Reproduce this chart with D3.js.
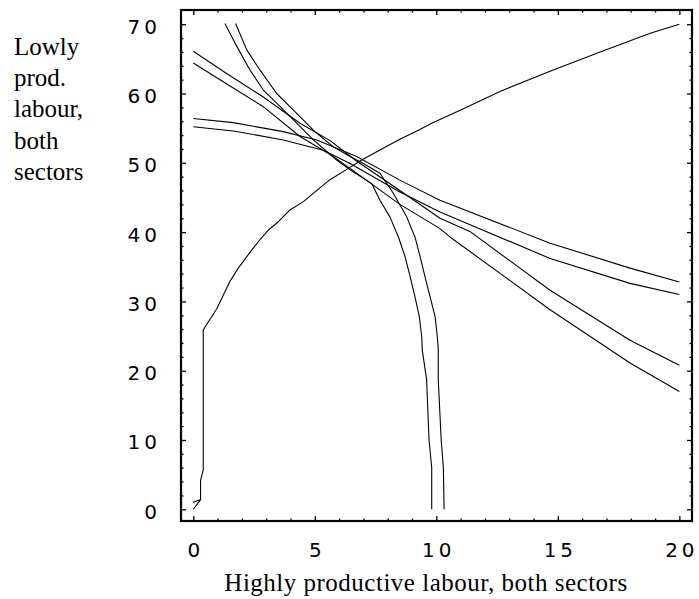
<!DOCTYPE html>
<html>
<head>
<meta charset="utf-8">
<script src="https://cdn.jsdelivr.net/npm/d3@7"></script>
<style>
  body { margin: 0; background: #fff; }
  svg { display: block; }
</style>
</head>
<body>
<svg id="chart"></svg>
<script>
// tick values
const xMajor = [0, 5, 10, 15, 20];
const yMajor = [0, 10, 20, 30, 40, 50, 60, 70];
const xMinor = [1, 2, 3, 4, 6, 7, 8, 9, 11, 12, 13, 14, 16, 17, 18, 19];
const yMinor = [2, 4, 6, 8, 12, 14, 16, 18, 22, 24, 26, 28, 32, 34, 36, 38, 42, 44, 46, 48, 52, 54, 56, 58, 62, 64, 66, 68];

// rising curve
const riseCurve = [[0,0],[0.3,1.4],[0,1.0],[0.3,1.4],[0.3,4.2],[0.41,5.7],[0.41,25.9],[0.96,28.9],[1.51,32.9],
  [1.85,34.8],[2.40,37.4],[2.74,38.9],[3.09,40.3],[3.50,41.5],[3.98,43.2],[4.53,44.4],[5.01,45.8],
  [5.56,47.4],[6.38,49.2],[6.93,50.4],[7.68,51.85],[8.5,53.4],[9.26,54.7],[9.81,55.7],
  [10.98,57.6],[12.62,60.3],[14.68,63.2],[16.74,66.0],[18.8,68.7],[20,70]];

// steep falling curves
const steepA = [[1.30,70.1],[1.79,66.8],[2.33,63.4],[2.88,60.5],[3.43,58.6],[4.12,56.2],[4.94,53.3],[5.90,50.4],
  [6.45,49.0],[7.34,47.0],[7.68,44.6],[8.09,42.2],[8.44,39.3],[8.71,36.5],[8.92,33.6],[9.12,30.7],
  [9.30,27.8],[9.40,24.9],[9.42,23.0],[9.6,18.7],[9.7,10],[9.81,6],[9.81,0]];
const steepB = [[1.74,70.1],[2.20,66.3],[2.74,63.4],[3.43,60.0],[4.12,57.6],[4.94,54.7],[5.76,52.3],[6.45,50.9],
  [7.0,49.9],[7.68,48.5],[8.23,45.6],[8.78,42.2],[9.12,39.3],[9.33,36.5],[9.53,33.6],[9.74,30.7],
  [9.95,27.8],[10.04,24.9],[10.08,23],[10.08,18.7],[10.2,10],[10.29,6],[10.32,0]];

// falling curves starting high
const fallA = [[0,66.1],[1.23,63.2],[2.88,59.5],[4.39,55.7],[5.63,53.2],[6.7,50.3],[8.5,46],[10.15,42.0],
  [11.38,40.1],[14.68,31.6],[17.97,24.4],[20,20.8]];
const fallB = [[0,64.4],[1.23,61.7],[2.88,58.1],[4.39,53.8],[5.63,51.2],[6.45,49.2],[8.5,44.0],[10.15,40.5],
  [10.56,39.3],[14.68,28.8],[17.97,21.1],[20,17.0]];

// flatter falling curves
const flatA = [[0,56.4],[1.65,55.8],[3.7,54.5],[5.08,53.3],[6.72,50.9],[8.5,47.5],[10.15,44.6],[14.68,38.4],
  [17.97,34.8],[20,32.8]];
const flatB = [[0,55.2],[1.65,54.6],[3.7,53.3],[5.35,51.8],[6.45,49.9],[8.5,45.8],[10.15,42.9],[14.68,36.2],
  [17.97,32.6],[20,31.0]];

const curves = [riseCurve, steepA, steepB, fallA, fallB, flatA, flatB];

const yLabelLines = ["Lowly", "prod.", "labour,", "both", "sectors"];
const xLabel = "Highly productive labour, both sectors";

const width = 699, height = 599;
const frame = {left: 181, right: 692, top: 10, bottom: 521};

const svg = d3.select("#chart").attr("width", width).attr("height", height);

const x = d3.scaleLinear().domain([-0.506, 20.52]).range([frame.left, frame.right]);
const y = d3.scaleLinear().domain([-1.69, 72.05]).range([frame.bottom, frame.top]);

// ticks on all four sides, pointing inward
const tickFont = "'DejaVu Sans', sans-serif";
function styleTicks(g) {
  g.select(".domain").remove();
  g.selectAll("line").attr("stroke", "#000").attr("stroke-width", 1.3);
}

svg.append("g").attr("transform", `translate(0,${frame.bottom})`)
  .call(d3.axisBottom(x).tickValues(xMinor).tickSize(-2.5).tickFormat(""))
  .call(styleTicks);
svg.append("g").attr("transform", `translate(0,${frame.bottom})`)
  .call(d3.axisBottom(x).tickValues(xMajor).tickSize(-5).tickPadding(22).tickFormat(d3.format("d")))
  .call(styleTicks)
  .call(g => g.selectAll("text")
    .attr("font-family", tickFont).attr("font-size", 20).attr("fill", "#000")
    .style("letter-spacing", "4px").attr("dx", 2));

svg.append("g").attr("transform", `translate(0,${frame.top})`)
  .call(d3.axisTop(x).tickValues(xMinor).tickSize(-2.5).tickFormat(""))
  .call(styleTicks);
svg.append("g").attr("transform", `translate(0,${frame.top})`)
  .call(d3.axisTop(x).tickValues(xMajor).tickSize(-5).tickFormat(""))
  .call(styleTicks);

svg.append("g").attr("transform", `translate(${frame.left},0)`)
  .call(d3.axisLeft(y).tickValues(yMinor).tickSize(-2.5).tickFormat(""))
  .call(styleTicks);
svg.append("g").attr("transform", `translate(${frame.left},0)`)
  .call(d3.axisLeft(y).tickValues(yMajor).tickSize(-5).tickPadding(20).tickFormat(d3.format("d")))
  .call(styleTicks)
  .call(g => g.selectAll("text")
    .attr("font-family", tickFont).attr("font-size", 20).attr("fill", "#000")
    .style("letter-spacing", "4px").attr("dy", "0.45em"));

svg.append("g").attr("transform", `translate(${frame.right},0)`)
  .call(d3.axisRight(y).tickValues(yMinor).tickSize(-2.5).tickFormat(""))
  .call(styleTicks);
svg.append("g").attr("transform", `translate(${frame.right},0)`)
  .call(d3.axisRight(y).tickValues(yMajor).tickSize(-5).tickFormat(""))
  .call(styleTicks);

// frame
svg.append("rect")
  .attr("x", frame.left).attr("y", frame.top)
  .attr("width", frame.right - frame.left).attr("height", frame.bottom - frame.top)
  .attr("fill", "none").attr("stroke", "#000").attr("stroke-width", 2.2);

// curves
const line = d3.line().x(d => x(d[0])).y(d => y(d[1]));
svg.append("g").selectAll("path")
  .data(curves)
  .enter()
  .append("path")
  .attr("d", line)
  .attr("fill", "none")
  .attr("stroke", "#000")
  .attr("stroke-width", 1.1)
  .attr("stroke-linejoin", "round");

// axis titles
const serif = "'Liberation Serif', 'Times New Roman', serif";
svg.append("text")
  .attr("x", 426).attr("y", 591)
  .attr("text-anchor", "middle")
  .attr("font-family", serif).attr("font-size", 25)
  .style("letter-spacing", "0.5px")
  .text(xLabel);

svg.append("g").selectAll("text")
  .data(yLabelLines)
  .enter()
  .append("text")
  .attr("x", 14)
  .attr("y", (d, i) => 55 + i * 31.2)
  .attr("font-family", serif).attr("font-size", 25)
  .text(d => d);
</script>
</body>
</html>
